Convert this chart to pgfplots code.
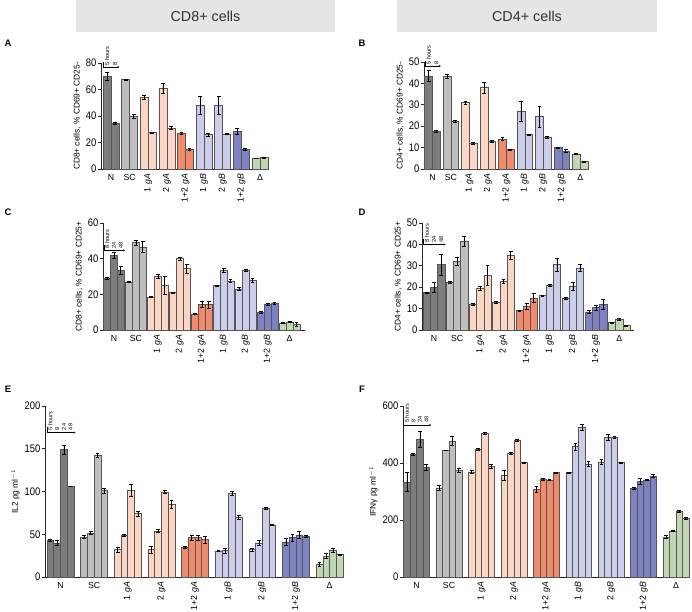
\documentclass[border=0pt]{standalone}
\usepackage{fontspec}
\setmainfont{Liberation Sans}
\newfontfamily\narrow{Liberation Sans}[FakeStretch=0.86]
\usepackage{pgfplots}
\pgfplotsset{compat=1.18}
\usetikzlibrary{arrows.meta}

\definecolor{cN}{RGB}{125,125,125}
\definecolor{cSC}{RGB}{190,190,190}
\definecolor{cgA}{RGB}{252,214,196}
\definecolor{cgAA}{RGB}{240,138,106}
\definecolor{cgB}{RGB}{203,205,234}
\definecolor{cgBB}{RGB}{126,130,194}
\definecolor{cD}{RGB}{194,214,180}
\definecolor{edge}{RGB}{85,85,85}
\definecolor{hdr}{RGB}{229,229,229}

\tikzset{ann/.style={font=\fontsize{5.6}{6}\selectfont, rotate=90, anchor=west, inner sep=0.5pt}}

\pgfplotsset{
  prism/.style={
    scale only axis, anchor=south west,
    axis lines=left,
    axis line style={-, line width=0.7pt, black!85},
    ymin=0, clip=false,
    xtick={0,...,8},
    xticklabels={N,SC,\rotatebox{90}{1 \textit{gA}},\rotatebox{90}{2 \textit{gA}},\rotatebox{90}{1+2 \textit{gA}},\rotatebox{90}{1 \textit{gB}},\rotatebox{90}{2 \textit{gB}},\rotatebox{90}{1+2 \textit{gB}},Δ},
    xtick style={draw=none},
    ytick style={line width=0.7pt, black!85},
    tick align=outside, major tick length=3bp,
    yticklabel style={font=\narrow\fontsize{11}{11}\selectfont, inner sep=1.5pt},
    xticklabel style={font=\fontsize{8.8}{9}\selectfont, inner sep=1.8pt},
    ylabel style={font=\fontsize{8.4}{9}\selectfont},
    /pgf/number format/assume math mode=true,
  },
  bb/.style={ybar, bar shift=0pt, draw=edge, line width=0.55pt,
    error bars/y dir=both, error bars/y explicit,
    error bars/error bar style={black, line width=0.6pt},
    error bars/error mark options={rotate=90, black, mark size=1.9pt, line width=0.6pt}},
  gN/.style={bb, fill=cN},
  gSC/.style={bb, fill=cSC},
  gA/.style={bb, fill=cgA},
  gAA/.style={bb, fill=cgAA},
  gB/.style={bb, fill=cgB},
  gBB/.style={bb, fill=cgBB},
  gD/.style={bb, fill=cD},
}

\begin{document}
\begin{tikzpicture}
\path[use as bounding box] (0,0) rectangle (692bp,612bp);

% headers
\fill[hdr] (76bp,580bp) rectangle (335bp,612bp);
\node[font=\fontsize{14.4}{15}\selectfont, text=black!80] at (205.5bp,596bp) {CD8+ cells};
\fill[hdr] (397bp,580bp) rectangle (657bp,612bp);
\node[font=\fontsize{14.4}{15}\selectfont, text=black!80] at (527bp,596bp) {CD4+ cells};

% panel letters
\begin{scope}[every node/.style={font=\fontsize{9.5}{10}\selectfont\bfseries}]
\node at (8bp,569bp) {A};
\node at (362bp,569bp) {B};
\node at (8bp,400bp) {C};
\node at (362bp,400bp) {D};
\node at (8bp,223bp) {E};
\node at (362bp,223bp) {F};
\end{scope}

% A
\begin{axis}[prism, at={(101bp,443bp)}, width=167bp, height=106bp,
  xmin=-0.54, xmax=8.43, ymax=80, ytick={0,20,...,80}, bar width=0.43,
  ylabel={CD8+ cells, \% CD69+ CD25-}]
\addplot[gN] coordinates {(-0.215,70)+-(0,3) (0.215,34.5)+-(0,1)};
\addplot[gSC] coordinates {(0.785,67.5)+-(0,0.5) (1.215,39.5)+-(0,1.5)};
\addplot[gA] coordinates {(1.785,54)+-(0,1.5) (2.215,27.5)+-(0,0.5)};
\addplot[gA] coordinates {(2.785,61)+-(0,3.5) (3.215,31)+-(0,1)};
\addplot[gAA] coordinates {(3.785,27)+-(0,0.5) (4.215,15)+-(0,0.7)};
\addplot[gB] coordinates {(4.785,48)+-(0,6.5) (5.215,26)+-(0,1)};
\addplot[gB] coordinates {(5.785,48)+-(0,7) (6.215,26.5)+-(0,0.5)};
\addplot[gBB] coordinates {(6.785,28.5)+-(0,2) (7.215,15)+-(0,0.7)};
\addplot[gD] coordinates {(7.785,8)+-(0,0.3) (8.215,8.5)+-(0,0.3)};
\draw[line width=0.4pt] (axis cs:-0.43,77) -- (axis cs:-0.43,81);
\draw[-{Stealth[length=2pt,width=2pt]}, line width=0.4pt] (axis cs:-0.43,77) -- (axis cs:0.45,77);
\node[ann] at (axis cs:-0.215,77.8) {5 hours};
\node[ann] at (axis cs:0.215,77.8) {8};
\end{axis}

% B
\begin{axis}[prism, at={(424bp,443bp)}, width=164bp, height=107bp,
  xmin=-0.46, xmax=8.42, ymax=50, ytick={0,10,...,50}, bar width=0.42,
  ylabel={CD4+ cells, \% CD69+ CD25-}]
\addplot[gN] coordinates {(-0.21,43.5)+-(0,2.5) (0.21,17.6)+-(0,0.4)};
\addplot[gSC] coordinates {(0.79,43.3)+-(0,0.8) (1.21,22.3)+-(0,0.4)};
\addplot[gA] coordinates {(1.79,31)+-(0,0.8) (2.21,12)+-(0,0.3)};
\addplot[gA] coordinates {(2.79,38)+-(0,2.5) (3.21,13)+-(0,0.5)};
\addplot[gAA] coordinates {(3.79,14)+-(0,0.8) (4.21,9)+-(0,0.3)};
\addplot[gB] coordinates {(4.79,27)+-(0,4.5) (5.21,16)+-(0,0.3)};
\addplot[gB] coordinates {(5.79,24.5)+-(0,5) (6.21,14.8)+-(0,0.5)};
\addplot[gBB] coordinates {(6.79,10)+-(0,0.3) (7.21,8.5)+-(0,0.6)};
\addplot[gD] coordinates {(7.79,7)+-(0,0.2) (8.21,3.5)+-(0,0.3)};
\draw[line width=0.4pt] (axis cs:-0.42,48.2) -- (axis cs:-0.42,50.6);
\draw[-{Stealth[length=2pt,width=2pt]}, line width=0.4pt] (axis cs:-0.42,48.2) -- (axis cs:0.45,48.2);
\node[ann] at (axis cs:-0.21,48.7) {5 hours};
\node[ann] at (axis cs:0.21,48.7) {8};
\end{axis}

% C
\begin{axis}[prism, at={(103bp,282bp)}, width=202bp, height=107bp,
  xmin=-0.5, xmax=8.7, ymax=60, ytick={0,20,40,60}, bar width=0.31,
  ylabel={CD8+ cells, \% CD69+ CD25+}]
\addplot[gN] coordinates {(-0.31,29)+-(0,0.5) (0,42)+-(0,1.8) (0.31,33.5)+-(0,2)};
\addplot[gSC] coordinates {(0.69,27)+-(0,0.3) (1,49)+-(0,1.5) (1.31,46.5)+-(0,3)};
\addplot[gA] coordinates {(1.69,18.5)+-(0,0.3) (2,30)+-(0,1) (2.31,25)+-(0,5)};
\addplot[gA] coordinates {(2.69,21)+-(0,0.3) (3,40)+-(0,0.7) (3.31,34.5)+-(0,2.5)};
\addplot[gAA] coordinates {(3.69,9)+-(0,0.3) (4,14.5)+-(0,1.5) (4.31,14.3)+-(0,2)};
\addplot[gB] coordinates {(4.69,25)+-(0,0.3) (5,33.5)+-(0,1) (5.31,27.5)+-(0,1)};
\addplot[gB] coordinates {(5.69,23)+-(0,1) (6,33.5)+-(0,0.5) (6.31,28)+-(0,1)};
\addplot[gBB] coordinates {(6.69,10)+-(0,0.7) (7,14.3)+-(0,0.6) (7.31,15)+-(0,0.7)};
\addplot[gD] coordinates {(7.69,4)+-(0,0.2) (8,4.5)+-(0,0.3) (8.31,3)+-(0,1.2)};
\draw[line width=0.4pt] (axis cs:-0.46,44.6) -- (axis cs:-0.46,47.5);
\draw[-{Stealth[length=2pt,width=2pt]}, line width=0.4pt] (axis cs:-0.46,44.6) -- (axis cs:0.5,44.6);
\node[ann] at (axis cs:-0.31,45.3) {8 hours};
\node[ann] at (axis cs:0,45.3) {24};
\node[ann] at (axis cs:0.31,45.3) {48};
\end{axis}

% D
\begin{axis}[prism, at={(422bp,282bp)}, width=212bp, height=107bp,
  xmin=-0.52, xmax=8.64, ymax=50, ytick={0,10,...,50}, bar width=0.31,
  ylabel={CD4+ cells, \% CD69+ CD25+}]
\addplot[gN] coordinates {(-0.31,17.5)+-(0,0.3) (0,20)+-(0,2.5) (0.31,30.5)+-(0,5)};
\addplot[gSC] coordinates {(0.69,22.3)+-(0,0.3) (1,32)+-(0,2) (1.31,41.5)+-(0,2.5)};
\addplot[gA] coordinates {(1.69,12)+-(0,0.3) (2,19.5)+-(0,1) (2.31,25.5)+-(0,4.5)};
\addplot[gA] coordinates {(2.69,12.8)+-(0,0.5) (3,22.7)+-(0,1) (3.31,35)+-(0,2)};
\addplot[gAA] coordinates {(3.69,9)+-(0,0.3) (4,11)+-(0,1.5) (4.31,15)+-(0,2)};
\addplot[gB] coordinates {(4.69,16)+-(0,0.3) (5,21)+-(0,0.5) (5.31,30.5)+-(0,3)};
\addplot[gB] coordinates {(5.69,15)+-(0,0.5) (6,20.5)+-(0,2) (6.31,29)+-(0,1.5)};
\addplot[gBB] coordinates {(6.69,8.5)+-(0,0.6) (7,10.5)+-(0,1.2) (7.31,12)+-(0,2.5)};
\addplot[gD] coordinates {(7.69,3.5)+-(0,0.3) (8,4.8)+-(0,0.5) (8.31,2)+-(0,0.3)};
\draw[line width=0.4pt] (axis cs:-0.47,40) -- (axis cs:-0.47,42.5);
\draw[-{Stealth[length=2pt,width=2pt]}, line width=0.4pt] (axis cs:-0.47,40) -- (axis cs:0.5,40);
\node[ann] at (axis cs:-0.31,40.6) {8 hours};
\node[ann] at (axis cs:0,40.6) {24};
\node[ann] at (axis cs:0.31,40.6) {48};
\end{axis}

% E
\begin{axis}[prism, at={(45bp,35bp)}, width=298bp, height=171bp,
  xmin=-0.46, xmax=8.4, ymax=200, ytick={0,50,...,200}, bar width=0.2,
  ylabel={IL2 pg ml$^{-1}$}]
\addplot[gN] coordinates {(-0.3,43)+-(0,1) (-0.1,40)+-(0,3) (0.1,149)+-(0,5) (0.3,106)+-(0,0.5)};
\addplot[gSC] coordinates {(0.7,47)+-(0,1.5) (0.9,51.5)+-(0,2) (1.1,142.5)+-(0,2) (1.3,101)+-(0,3)};
\addplot[gA] coordinates {(1.7,32)+-(0,3) (1.9,49)+-(0,1) (2.1,101)+-(0,7) (2.3,74)+-(0,3)};
\addplot[gA] coordinates {(2.7,32)+-(0,4) (2.9,54)+-(0,2) (3.1,99.5)+-(0,1.5) (3.3,85)+-(0,5)};
\addplot[gAA] coordinates {(3.7,35)+-(0,1) (3.9,46)+-(0,3) (4.1,46)+-(0,3) (4.3,44)+-(0,4)};
\addplot[gB] coordinates {(4.7,30.5)+-(0,1) (4.9,31)+-(0,3) (5.1,97.5)+-(0,2.5) (5.3,70)+-(0,2)};
\addplot[gB] coordinates {(5.7,32)+-(0,1.5) (5.9,40)+-(0,3) (6.1,80)+-(0,1) (6.3,61)+-(0,0.5)};
\addplot[gBB] coordinates {(6.7,41)+-(0,4) (6.9,46)+-(0,4) (7.1,49)+-(0,4) (7.3,47.5)+-(0,1)};
\addplot[gD] coordinates {(7.7,15)+-(0,2) (7.9,24.5)+-(0,3) (8.1,31)+-(0,2) (8.3,26)+-(0,1)};
\draw[line width=0.4pt] (axis cs:-0.4,169) -- (axis cs:-0.4,176);
\draw[-{Stealth[length=2pt,width=2pt]}, line width=0.4pt] (axis cs:-0.4,169) -- (axis cs:0.45,169);
\node[ann] at (axis cs:-0.3,171) {5 hours};
\node[ann] at (axis cs:-0.1,171) {8};
\node[ann] at (axis cs:0.1,171) {24};
\node[ann] at (axis cs:0.3,171) {48};
\end{axis}

% F
\begin{axis}[prism, at={(403bp,35bp)}, width=286bp, height=171bp,
  xmin=-0.42, xmax=8.4, ymax=600, ytick={0,200,400,600}, bar width=0.2,
  ylabel={IFNγ pg ml$^{-1}$}]
\addplot[gN] coordinates {(-0.3,334)+-(0,35) (-0.1,431)+-(0,4) (0.1,483)+-(0,28) (0.3,384)+-(0,10)};
\addplot[gSC] coordinates {(0.7,313)+-(0,8) (0.9,445)+-(0,1) (1.1,478)+-(0,15) (1.3,375)+-(0,8)};
\addplot[gA] coordinates {(1.7,369)+-(0,5) (1.9,448)+-(0,3) (2.1,504)+-(0,2) (2.3,389)+-(0,8)};
\addplot[gA] coordinates {(2.7,356)+-(0,17) (2.9,434)+-(0,4) (3.1,480)+-(0,3) (3.3,402)+-(0,2)};
\addplot[gAA] coordinates {(3.7,308)+-(0,12) (3.9,343)+-(0,5) (4.1,340)+-(0,2) (4.3,366)+-(0,2)};
\addplot[gB] coordinates {(4.7,366)+-(0,2) (4.9,457)+-(0,12) (5.1,525)+-(0,10) (5.3,397)+-(0,8)};
\addplot[gB] coordinates {(5.7,404)+-(0,10) (5.9,490)+-(0,10) (6.1,490)+-(0,3) (6.3,401)+-(0,3)};
\addplot[gBB] coordinates {(6.7,311)+-(0,5) (6.9,336)+-(0,9) (7.1,340)+-(0,2) (7.3,354)+-(0,5)};
\addplot[gD] coordinates {(7.7,141)+-(0,5) (7.9,162)+-(0,2) (8.1,231)+-(0,4) (8.3,206)+-(0,2)};
\draw[line width=0.4pt] (axis cs:-0.4,533) -- (axis cs:-0.4,555);
\draw[-{Stealth[length=2pt,width=2pt]}, line width=0.4pt] (axis cs:-0.4,533) -- (axis cs:0.45,533);
\node[ann] at (axis cs:-0.3,539) {5 hours};
\node[ann] at (axis cs:-0.1,539) {8};
\node[ann] at (axis cs:0.1,539) {24};
\node[ann] at (axis cs:0.3,539) {48};
\end{axis}
\end{tikzpicture}
\end{document}
